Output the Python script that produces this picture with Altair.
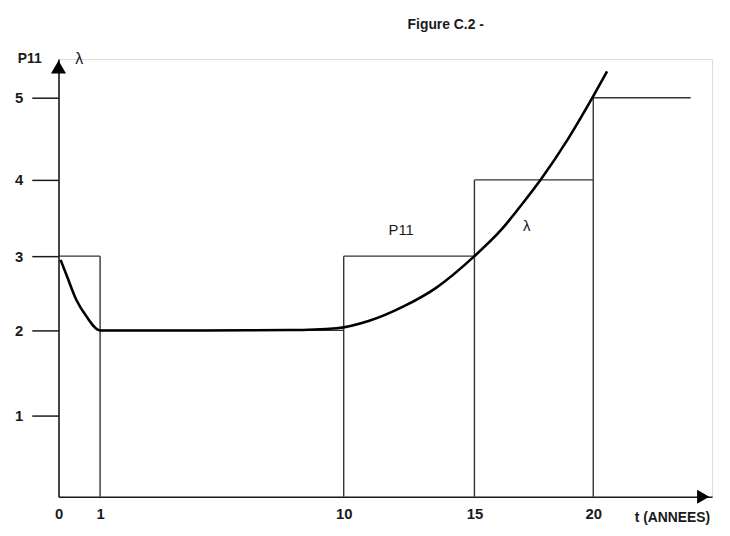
import altair as alt
import pandas as pd

# ---- data ----
x_ticks = [0, 1, 10, 15, 20]
y_ticks = [1, 2, 3, 4, 5]

# P11 step function (start, end, level)
p11_start = [0, 1, 10, 15, 20]
p11_end = [1, 10, 15, 20, 24.1]
p11_value = [3, 2, 3, 4, 5]

# lambda curve
lambda_t = [0.05, 0.19, 0.43, 0.67, 1.0, 5, 8, 9.74, 10.98, 12.27, 13.52, 15, 16.17, 17.0, 17.83, 18.92, 20, 20.58]
lambda_v = [2.95, 2.75, 2.41, 2.19, 2.0, 2.0, 2.005, 2.03, 2.13, 2.32, 2.57, 3.0, 3.36, 3.68, 4.02, 4.49, 5.02, 5.34]

# annotation labels
ann_text = ["P11", "λ"]
ann_x = [12.2, 17.2]
ann_y = [3.34, 3.39]

# ---- tables ----
steps = pd.DataFrame({"x0": p11_start, "x1": p11_end, "v": p11_value})
verts = pd.DataFrame({
    "x": p11_start[1:],
    "v0": [0] * (len(p11_start) - 1),
    "v1": [max(p11_value[i - 1], p11_value[i]) for i in range(1, len(p11_value))],
})
lam = pd.DataFrame({"t": lambda_t, "v": lambda_v})
ann = pd.DataFrame({"label": ann_text, "x": ann_x, "y": ann_y})

FONT = "Liberation Sans Narrow, Liberation Sans, Arial"
INK = "#1a1a1a"

xs = alt.Scale(domain=[0, 1, 10, 15, 20, 25], range=[0, 42, 288, 420, 540, 660], nice=False, zero=False)
ys = alt.Scale(domain=[0, 1, 2, 3, 4, 5, 5.5], range=[442, 360, 274, 199, 122, 39, 0], nice=False, zero=False)

xa = alt.Axis(values=x_ticks, ticks=False, domainColor=INK, domainWidth=1.6, labelFont=FONT,
              labelFontSize=15, labelFontWeight="bold", labelColor=INK, labelPadding=10,
              grid=False, title=None, labelOverlap=False, labelFlush=False)
ya = alt.Axis(values=y_ticks, tickSize=27, tickColor=INK, tickWidth=1.5, domainColor=INK,
              domainWidth=1.6, labelFont=FONT, labelFontSize=15, labelFontWeight="bold",
              labelColor=INK, labelPadding=9, grid=False, title=None)

horiz = alt.Chart(steps).mark_rule(color="#333", strokeWidth=1.4).encode(
    x=alt.X("x0:Q", scale=xs, axis=xa), x2="x1:Q",
    y=alt.Y("v:Q", scale=ys, axis=ya),
)
vert = alt.Chart(verts).mark_rule(color="#333", strokeWidth=1.4).encode(
    x=alt.X("x:Q", scale=xs, axis=xa),
    y=alt.Y("v0:Q", scale=ys, axis=ya), y2="v1:Q",
)
curve = alt.Chart(lam).mark_line(color="black", strokeWidth=2.6, interpolate="monotone").encode(
    x=alt.X("t:Q", scale=xs, axis=xa),
    y=alt.Y("v:Q", scale=ys, axis=ya),
)
labels = alt.Chart(ann).mark_text(font="Liberation Sans", fontSize=15, color=INK).encode(
    x=alt.X("x:Q", scale=xs, axis=xa),
    y=alt.Y("y:Q", scale=ys, axis=ya),
    text="label:N",
)

arrow_up = alt.Chart(pd.DataFrame({"a": [0]})).mark_point(
    shape="triangle-up", filled=True, color="black", size=230, opacity=1
).encode(x=alt.value(0), y=alt.value(8))
arrow_right = alt.Chart(pd.DataFrame({"a": [0]})).mark_point(
    shape="triangle-right", filled=True, color="black", size=200, opacity=1
).encode(x=alt.value(651), y=alt.value(442))

txt_bold = pd.DataFrame({
    "label": ["Figure C.2 -", "P11", "t (ANNEES)"],
    "px": [391, -29, 620],
    "py": [-34, 0, 463],
})
txt_norm = pd.DataFrame({"label": ["λ"], "px": [21], "py": [0]})
frame_bold = alt.Chart(txt_bold).mark_text(font=FONT, fontSize=14, fontWeight="bold", color=INK).encode(
    x=alt.X("px:Q", scale=None), y=alt.Y("py:Q", scale=None), text="label:N",
)
frame_norm = alt.Chart(txt_norm).mark_text(font="Liberation Sans", fontSize=16, color=INK).encode(
    x=alt.X("px:Q", scale=None), y=alt.Y("py:Q", scale=None), text="label:N",
)

chart = alt.layer(horiz, vert, curve, labels, arrow_up, arrow_right, frame_bold, frame_norm).properties(
    width=660, height=442,
    autosize=alt.AutoSizeParams(type="none"),
    padding={"left": 51, "top": 49, "right": 10, "bottom": 35},
).configure_view(stroke=None).configure(background="white")

chart.save("out.html", embed_options={"renderer": "svg", "actions": False})
